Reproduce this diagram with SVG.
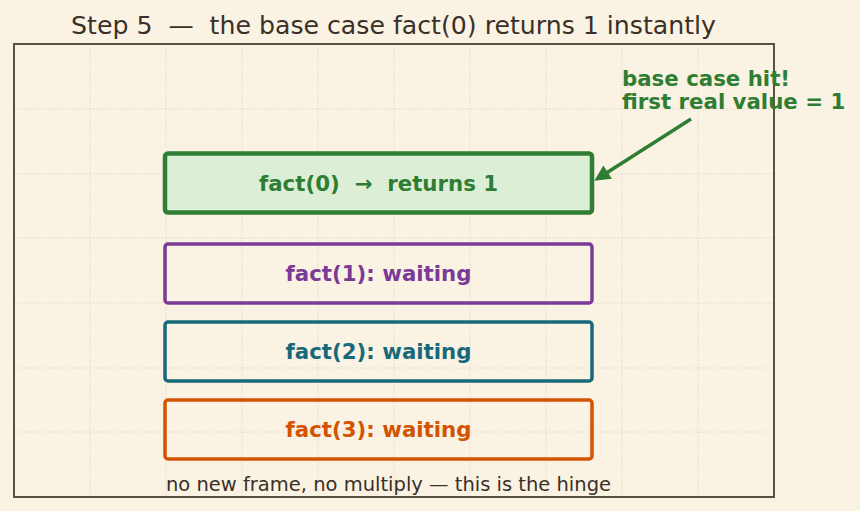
<svg xmlns="http://www.w3.org/2000/svg" width="860" height="511" viewBox="0 0 860 511">
<defs>
<style>
text{font-family:"DejaVu Sans",sans-serif;white-space:pre}
.grid line{stroke:#e3dbc8;stroke-width:1;stroke-dasharray:1.5 1.5}
.box{fill:none;stroke-width:3.5}
.lbl{font-weight:bold;font-size:21.3px;text-anchor:middle}
</style>
<marker id="ah" viewBox="0 0 10 10" refX="8" refY="5" markerWidth="5" markerHeight="4.5" orient="auto" markerUnits="strokeWidth">
<path d="M0,0 L10,5 L0,10 z" fill="#2e7d32"/>
</marker>
</defs>
<rect width="860" height="511" fill="#faf3e3"/>
<text x="393.5" y="33.5" font-size="25.2px" fill="#3a3028" text-anchor="middle" xml:space="preserve">Step 5  —  the base case fact(0) returns 1 instantly</text>
<g class="grid">
<line x1="90" y1="45" x2="90" y2="496"/><line x1="166" y1="45" x2="166" y2="496"/><line x1="242" y1="45" x2="242" y2="496"/><line x1="318" y1="45" x2="318" y2="496"/><line x1="394" y1="45" x2="394" y2="496"/><line x1="470" y1="45" x2="470" y2="496"/><line x1="546" y1="45" x2="546" y2="496"/><line x1="622" y1="45" x2="622" y2="496"/><line x1="698" y1="45" x2="698" y2="496"/>
<line x1="15" y1="109" x2="773" y2="109"/><line x1="15" y1="174" x2="773" y2="174"/><line x1="15" y1="238" x2="773" y2="238"/><line x1="15" y1="303" x2="773" y2="303"/><line x1="15" y1="368" x2="773" y2="368"/><line x1="15" y1="432" x2="773" y2="432"/>
</g>
<rect x="14" y="44" width="760" height="453" fill="none" stroke="#5a5040" stroke-width="2"/>
<g id="fact0">
<rect x="165" y="153.5" width="427" height="59" rx="3" fill="#dcefd6" stroke="#2e7d32" stroke-width="4.5"/>
<text class="lbl" x="378.5" y="190.5" fill="#2e7d32" xml:space="preserve">fact(0)  →  returns 1</text>
</g>
<g id="fact1">
<rect class="box" x="165" y="244" width="427" height="59" rx="3" stroke="#7b3a96"/>
<text class="lbl" x="378.5" y="280.5" fill="#7b3a96">fact(1): waiting</text>
</g>
<g id="fact2">
<rect class="box" x="165" y="322" width="427" height="59" rx="3" stroke="#17697a"/>
<text class="lbl" x="378.5" y="358.5" fill="#17697a">fact(2): waiting</text>
</g>
<g id="fact3">
<rect class="box" x="165" y="400" width="427" height="59" rx="3" stroke="#d35400"/>
<text class="lbl" x="378.5" y="436.5" fill="#d35400">fact(3): waiting</text>
</g>
<g id="note">
<text font-weight="bold" font-size="21.3px" fill="#2e7d32"><tspan x="622" y="86">base case hit!</tspan><tspan x="622" y="109">first real value = 1</tspan></text>
</g>
<g id="connectors">
<line x1="691" y1="119" x2="597" y2="179" stroke="#2e7d32" stroke-width="3.5" marker-end="url(#ah)"/>
</g>
<text x="388.5" y="491" font-size="19.5px" fill="#3a3028" text-anchor="middle">no new frame, no multiply — this is the hinge</text>
</svg>
